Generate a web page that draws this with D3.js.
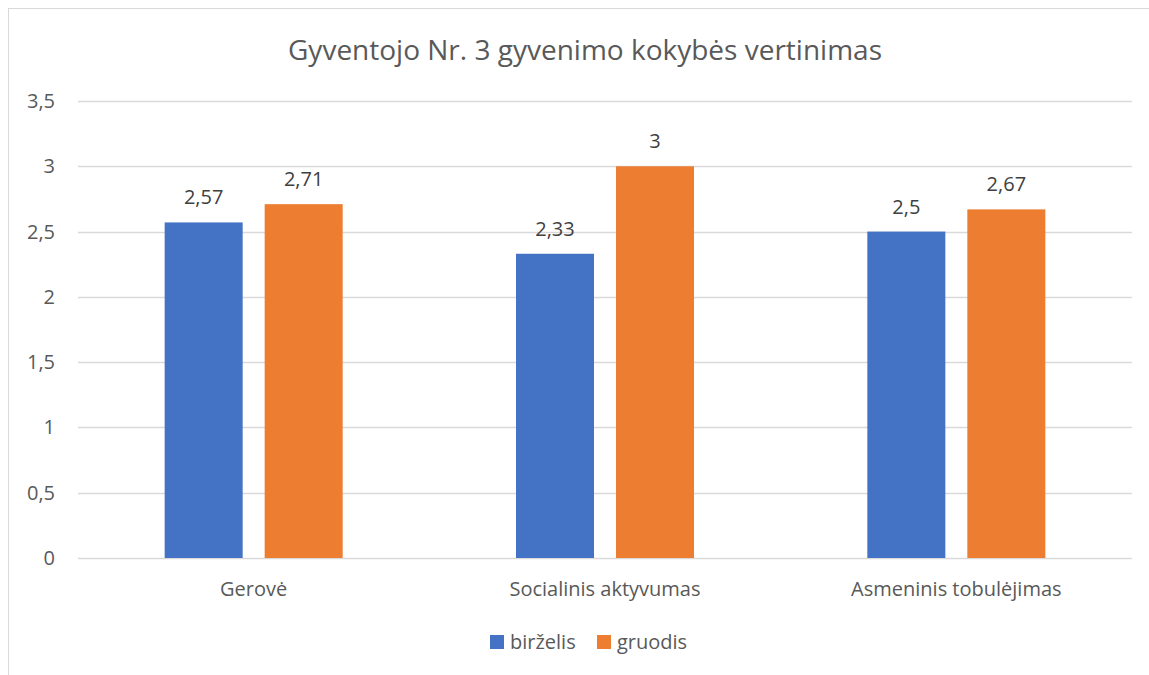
<!DOCTYPE html>
<html>
<head>
<meta charset="utf-8">
<script src="https://cdn.jsdelivr.net/npm/d3@7"></script>
<style>
  body { margin: 0; background: #fff; }
  text { font-family: "Open Sans", sans-serif; }
</style>
</head>
<body>
<div id="chart"></div>
<script>
var categories = ["Gerovė", "Socialinis aktyvumas", "Asmeninis tobulėjimas"];
var seriesNames = ["birželis", "gruodis"];
var birzelis = [2.57, 2.33, 2.5];
var gruodis = [2.71, 3, 2.67];
var yTicks = [0, 0.5, 1, 1.5, 2, 2.5, 3, 3.5];
var colors = ["#4472C4", "#ED7D31"];

var width = 1149, height = 675;
var margin = {left: 78, right: 17, top: 101, bottom: 117};

var svg = d3.select("#chart").append("svg")
    .attr("width", width)
    .attr("height", height);

// chart frame
svg.append("rect")
    .attr("x", 8.5).attr("y", 8.5)
    .attr("width", width).attr("height", height)
    .attr("fill", "none")
    .attr("stroke", "#d9d9d9");

var x0 = d3.scaleBand()
    .domain(categories)
    .range([margin.left, width - margin.right]);

var x1 = d3.scaleBand()
    .domain(seriesNames)
    .range([0, 178])
    .paddingInner(0.22);

var y = d3.scaleLinear()
    .domain([0, 3.5])
    .range([height - margin.bottom, margin.top]);

var fmt = function(v) { return String(v).replace(".", ","); };

// gridlines
svg.append("g")
    .selectAll("line")
    .data(yTicks)
    .enter().append("line")
    .attr("x1", margin.left)
    .attr("x2", width - margin.right)
    .attr("y1", function(d) { return Math.round(y(d)) + 0.5; })
    .attr("y2", function(d) { return Math.round(y(d)) + 0.5; })
    .attr("stroke", "#d9d9d9")
    .attr("stroke-width", 1.5);

// y labels
svg.append("g")
    .selectAll("text")
    .data(yTicks)
    .enter().append("text")
    .attr("x", 55)
    .attr("y", function(d) { return y(d); })
    .attr("dy", "0.35em")
    .attr("text-anchor", "end")
    .attr("font-size", 20)
    .attr("fill", "#595959")
    .text(fmt);

var rows = categories.map(function(c, i) {
    return {cat: c, values: [
        {key: seriesNames[0], value: birzelis[i], color: colors[0]},
        {key: seriesNames[1], value: gruodis[i], color: colors[1]}
    ]};
});

var groups = svg.append("g")
    .selectAll("g")
    .data(rows)
    .enter().append("g")
    .attr("transform", function(d) {
        return "translate(" + (x0(d.cat) + (x0.bandwidth() - 178) / 2) + ",0)";
    });

groups.selectAll("rect")
    .data(function(d) { return d.values; })
    .enter().append("rect")
    .attr("x", function(d) { return x1(d.key); })
    .attr("width", x1.bandwidth())
    .attr("y", function(d) { return y(d.value); })
    .attr("height", function(d) { return y(0) - y(d.value); })
    .attr("fill", function(d) { return d.color; });

groups.selectAll("text")
    .data(function(d) { return d.values; })
    .enter().append("text")
    .attr("x", function(d) { return x1(d.key) + x1.bandwidth() / 2; })
    .attr("y", function(d) { return y(d.value) - 18; })
    .attr("text-anchor", "middle")
    .attr("font-size", 20)
    .attr("fill", "#404040")
    .text(function(d) { return fmt(d.value); });

// category labels
svg.append("g")
    .selectAll("text")
    .data(categories)
    .enter().append("text")
    .attr("x", function(d) { return x0(d) + x0.bandwidth() / 2; })
    .attr("y", 596)
    .attr("text-anchor", "middle")
    .attr("font-size", 20)
    .attr("fill", "#595959")
    .text(function(d) { return d; });

// title
svg.append("text")
    .attr("x", 585)
    .attr("y", 60)
    .attr("text-anchor", "middle")
    .attr("font-size", 28)
    .attr("fill", "#595959")
    .text("Gyventojo Nr. 3 gyvenimo kokybės vertinimas");

// legend
var legend = svg.append("g")
    .selectAll("g")
    .data(seriesNames)
    .enter().append("g")
    .attr("transform", function(d, i) { return "translate(" + [490, 597][i] + ",635)"; });

legend.append("rect")
    .attr("width", 14)
    .attr("height", 14)
    .attr("fill", function(d, i) { return colors[i]; });

legend.append("text")
    .attr("x", 20)
    .attr("y", 14)
    .attr("font-size", 20)
    .attr("fill", "#595959")
    .text(function(d) { return d; });
</script>
</body>
</html>
